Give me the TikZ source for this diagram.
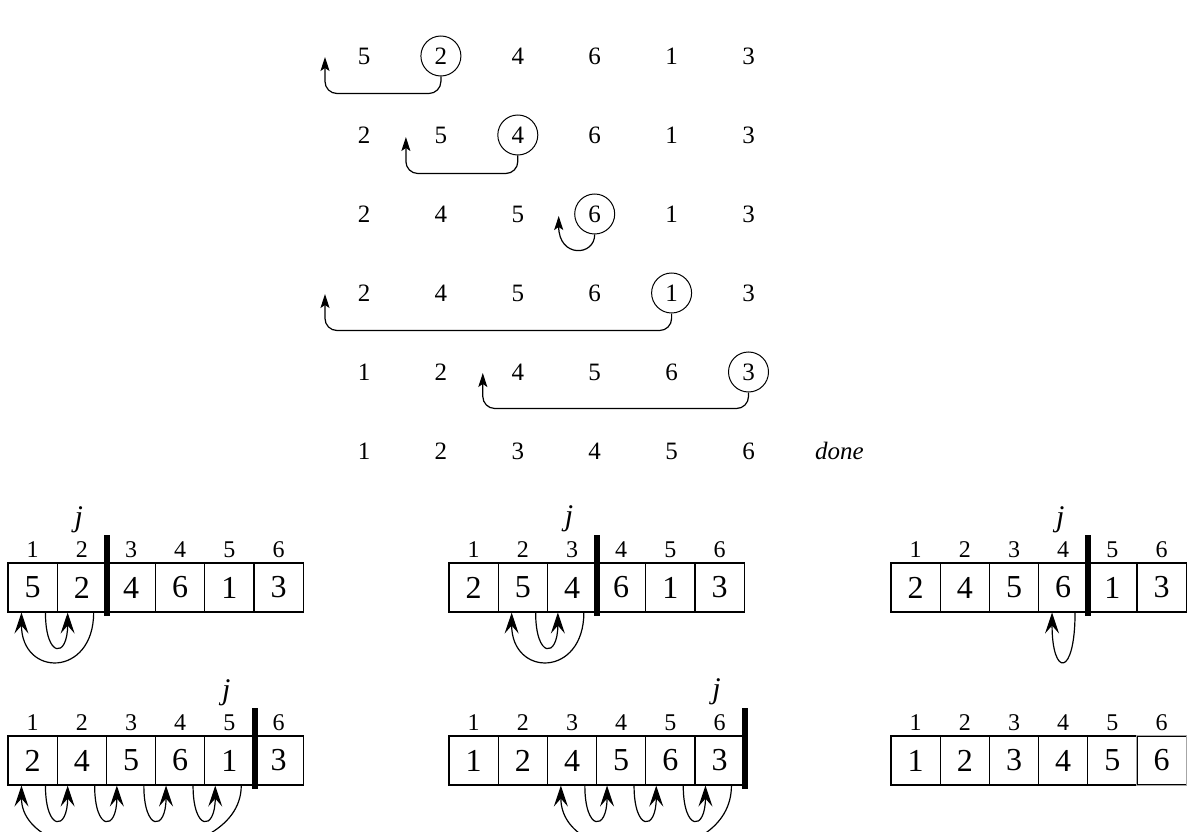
\documentclass[tikz,border=0pt]{standalone}
\usepackage{fontspec}
\setmainfont{Liberation Serif}
\usetikzlibrary{arrows.meta,positioning,calc}
\tikzset{
  num/.style={font=\fontsize{25}{28}\selectfont,inner sep=0pt},
  pick/.style={draw,circle,minimum size=40pt,line width=1pt},
  cell/.style={draw,line width=1.1pt,minimum width=49.2pt,minimum height=49pt,
    inner sep=0pt,font=\fontsize{32}{36}\selectfont},
  idx/.style={font=\fontsize{24}{28}\selectfont,inner sep=0pt},
  jlab/.style={font=\fontsize{30}{34}\selectfont\itshape,inner sep=0pt},
  bar/.style={line width=6pt},
  jump/.style={-{Stealth[length=14pt,width=9pt,inset=3pt]},line width=1.2pt,rounded corners=12pt},
  move/.style={-{Stealth[length=21pt,width=14pt,inset=8pt]},line width=1.2pt}
}
\begin{document}
\begin{tikzpicture}[x=1pt,y=-1pt]
  \useasboundingbox (0,0) rectangle (1187,832);
  % the six passes, one row each
  \foreach \vals [count=\r] in {{5,2,4,6,1,3},{2,5,4,6,1,3},{2,4,5,6,1,3},
      {2,4,5,6,1,3},{1,2,4,5,6,3},{1,2,3,4,5,6}}
    \foreach \v [count=\c] in \vals
      \node[num] (r\r-\c) at ({364+76.9*(\c-1)},{56+79*(\r-1)}) {\v};
  \node[num,font=\fontsize{25}{28}\selectfont\itshape,right=60pt of r6-6] (done) {done};
  % picked keys
  \node[pick] (k1) at (r1-2) {};
  \node[pick] (k2) at (r2-3) {};
  \node[pick] (k3) at (r3-4) {};
  \node[pick] (k4) at (r4-5) {};
  \node[pick] (k5) at (r5-6) {};
  \coordinate (t1) at ($(r1-1)+(-39,1)$);
  \coordinate (t2) at ($(r2-2)+(-35,2)$);
  \coordinate (t3) at ($(r3-4)+(-36,2)$);
  \coordinate (t4) at ($(r4-1)+(-39,1)$);
  \coordinate (t5) at ($(r5-3)+(-35,1)$);
  \draw[jump] (k1.south) -- ++(0,17) -| (t1);
  \draw[jump] (k2.south) -- ++(0,18) -| (t2);
  \draw[jump] (k3.south) .. controls +(0,22) and +(0,42) .. (t3);
  \draw[jump] (k4.south) -- ++(0,17) -| (t4);
  \draw[jump] (k5.south) -- ++(0,16) -| (t5);
  % arrays
  \foreach \p/\x/\y/\vals in {1/8/563/{5,2,4,6,1,3},2/449/563/{2,5,4,6,1,3},
      3/891/563/{2,4,5,6,1,3},4/8/736/{2,4,5,6,1,3},5/449/736/{1,2,4,5,6,3},
      6/891/736/{1,2,3,4,5,6}}
    \foreach \v [count=\c] in \vals {
      \node[cell] (p\p-\c) at ({\x+49.2*(\c-0.5)},{\y+24.5}) {\v};
      \node[idx,above=5pt of p\p-\c] (i\p-\c) {\c};
    }
  \draw[gray!70,line width=1.1pt] (p6-6.north west) rectangle (p6-6.south east);
  % j and the sorted boundary
  \foreach \p/\j in {1/2,2/3,3/4,4/5,5/6} {
    \node[jlab] (j\p) at ($(i\p-\j)+(-3,-30)$) {j};
    \draw[bar] ($(p\p-\j.north east)+(0,-27)$) -- ($(p\p-\j.south east)+(0,3)$);
  }
  % key goes down to its place
  \foreach \p/\j/\d/\c in {1/2/1/65,2/3/2/65,3/4/4/65,4/5/1/88,5/6/3/85}
    \draw[move] ($(p\p-\j.south west)+(37,0)$) .. controls +(0,\c) and +(0,\c) ..
      ($(p\p-\d.south west)+(14,0)$);
  % larger keys shift right
  \foreach \p/\a/\b in {1/1/2,2/2/3,4/1/2,4/2/3,4/3/4,4/4/5,5/3/4,5/4/5,5/5/6}
    \draw[move] ($(p\p-\a.south west)+(38,0)$) .. controls +(0,46) and +(0,46) ..
      ($(p\p-\b.south west)+(11,0)$);
\end{tikzpicture}
\end{document}
